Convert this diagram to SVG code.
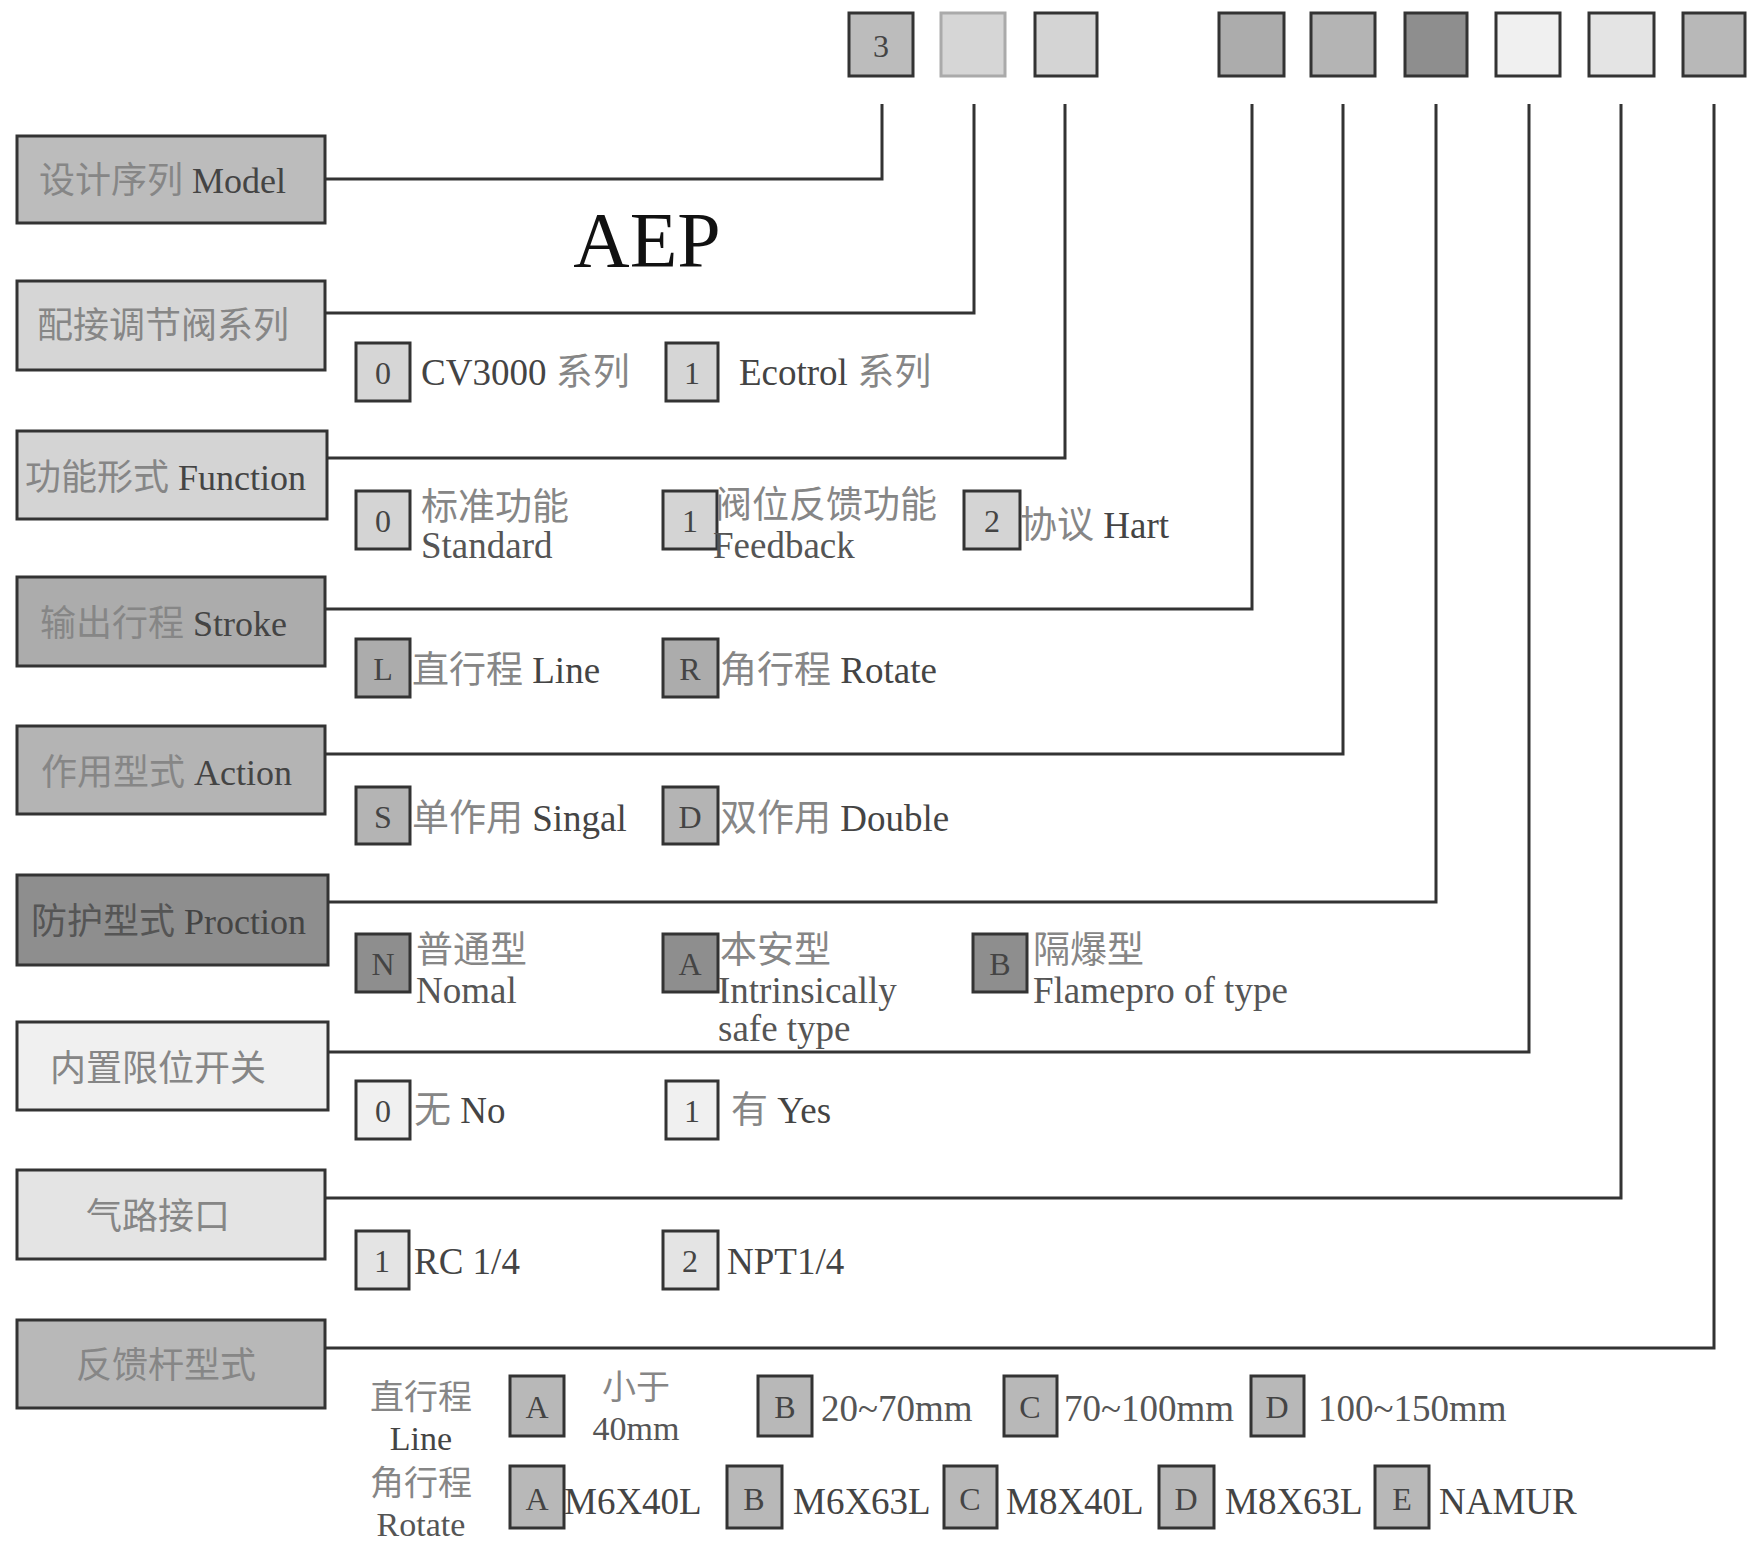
<svg xmlns="http://www.w3.org/2000/svg" width="1751" height="1542" viewBox="0 0 1751 1542">
<style>
.bx{stroke:#333;stroke-width:3}
.ob{stroke:#333;stroke-width:3}
.lbl{font-family:"Liberation Serif","Noto Sans CJK SC",serif;font-size:36px;fill:#444}
.opt{font-family:"Liberation Serif","Noto Sans CJK SC",serif;font-size:37px;fill:#444}
.key{font-family:"Liberation Serif","Noto Sans CJK SC",serif;font-size:32px;fill:#444;text-anchor:middle}
.cn{fill:#868686}
.conn{fill:none;stroke:#333;stroke-width:3}
.g1{fill:#bcbcbc}.g2{fill:#d6d6d6}.g3{fill:#d4d4d4}.g4{fill:#acacac}.g5{fill:#b4b4b4}.g6{fill:#8e8e8e}.g7{fill:#f0f0f0}.g8{fill:#e4e4e4}.g9{fill:#b8b8b8}
</style>
<rect width="1751" height="1542" fill="#ffffff"/>

<g id="code">
<rect class="bx g1" x="849" y="13" width="64" height="63"/>
<text class="key" x="881" y="57">3</text>
<rect class="bx g2" x="941" y="13" width="64" height="63" style="stroke:#aaa"/>
<rect class="bx g3" x="1035" y="13" width="62" height="63"/>
<rect class="bx g4" x="1219" y="13" width="65" height="63"/>
<rect class="bx g5" x="1311" y="13" width="64" height="63"/>
<rect class="bx g6" x="1405" y="13" width="62" height="63"/>
<rect class="bx g7" x="1496" y="13" width="64" height="63"/>
<rect class="bx g8" x="1589" y="13" width="65" height="63"/>
<rect class="bx g9" x="1683" y="13" width="62" height="63"/>
</g>

<text x="647" y="266" text-anchor="middle" style="font-family:'Liberation Serif',serif;font-size:78px;fill:#111">AEP</text>

<g id="connectors">
<path class="conn" d="M325 179 H882 V104"/>
<path class="conn" d="M325 313 H974 V104"/>
<path class="conn" d="M327 458 H1065 V104"/>
<path class="conn" d="M325 609 H1252 V104"/>
<path class="conn" d="M325 754 H1343 V104"/>
<path class="conn" d="M328 902 H1436 V104"/>
<path class="conn" d="M328 1052 H1529 V104"/>
<path class="conn" d="M325 1198 H1621 V104"/>
<path class="conn" d="M325 1348 H1714 V104"/>
</g>

<g id="model">
<rect class="bx g1" x="17" y="136" width="308" height="87"/>
<text class="lbl" x="39" y="193"><tspan class="cn">设计序列</tspan> Model</text>
</g>

<g id="series">
<rect class="bx g2" x="17" y="281" width="308" height="89"/>
<text class="lbl cn" x="37" y="338">配接调节阀系列</text>
<rect class="ob g2" x="356" y="343" width="54" height="58"/>
<text class="key" x="383" y="384">0</text>
<text class="opt" x="421" y="385">CV3000 <tspan class="cn">系列</tspan></text>
<rect class="ob g2" x="666" y="343" width="52" height="58"/>
<text class="key" x="692" y="384">1</text>
<text class="opt" x="739" y="385">Ecotrol <tspan class="cn">系列</tspan></text>
</g>

<g id="function">
<rect class="bx g3" x="17" y="431" width="310" height="88"/>
<text class="lbl" x="25" y="490"><tspan class="cn">功能形式</tspan> Function</text>
<rect class="ob g3" x="356" y="491" width="54" height="58"/>
<text class="key" x="383" y="532">0</text>
<text class="opt cn" x="421" y="520">标准功能</text>
<text class="opt" x="421" y="558" style="fill:#555">Standard</text>
<rect class="ob g3" x="663" y="491" width="54" height="58"/>
<text class="key" x="690" y="532">1</text>
<text class="opt cn" x="715" y="518">阀位反馈功能</text>
<text class="opt" x="713" y="558" style="fill:#555">Feedback</text>
<rect class="ob g3" x="964" y="491" width="56" height="58"/>
<text class="key" x="992" y="532">2</text>
<text class="opt" x="1020" y="538"><tspan class="cn">协议</tspan> Hart</text>
</g>

<g id="stroke">
<rect class="bx g4" x="17" y="577" width="308" height="89"/>
<text class="lbl" x="40" y="636"><tspan class="cn">输出行程</tspan> Stroke</text>
<rect class="ob g4" x="356" y="639" width="54" height="58"/>
<text class="key" x="383" y="680">L</text>
<text class="opt" x="412" y="683"><tspan class="cn">直行程</tspan> Line</text>
<rect class="ob g4" x="663" y="639" width="55" height="58"/>
<text class="key" x="690" y="680">R</text>
<text class="opt" x="720" y="683"><tspan class="cn">角行程</tspan> Rotate</text>
</g>

<g id="action">
<rect class="bx g5" x="17" y="726" width="308" height="88"/>
<text class="lbl" x="41" y="785"><tspan class="cn">作用型式</tspan> Action</text>
<rect class="ob g5" x="356" y="787" width="54" height="57"/>
<text class="key" x="383" y="828">S</text>
<text class="opt" x="412" y="831"><tspan class="cn">单作用</tspan> Singal</text>
<rect class="ob g5" x="663" y="787" width="55" height="57"/>
<text class="key" x="690" y="828">D</text>
<text class="opt" x="720" y="831"><tspan class="cn">双作用</tspan> Double</text>
</g>

<g id="protection">
<rect class="bx g6" x="17" y="875" width="311" height="90"/>
<text class="lbl" x="31" y="934"><tspan class="cn" style="fill:#555">防护型式</tspan> Proction</text>
<rect class="ob g6" x="356" y="934" width="54" height="58"/>
<text class="key" x="383" y="975">N</text>
<text class="opt cn" x="416" y="963">普通型</text>
<text class="opt" x="416" y="1003" style="fill:#555">Nomal</text>
<rect class="ob g6" x="663" y="934" width="55" height="58"/>
<text class="key" x="690" y="975">A</text>
<text class="opt cn" x="720" y="963">本安型</text>
<text class="opt" x="718" y="1003" style="fill:#555">Intrinsically</text>
<text class="opt" x="718" y="1041" style="fill:#555">safe type</text>
<rect class="ob g6" x="973" y="934" width="54" height="58"/>
<text class="key" x="1000" y="975">B</text>
<text class="opt cn" x="1033" y="963">隔爆型</text>
<text class="opt" x="1033" y="1003" style="fill:#555">Flamepro of type</text>
</g>

<g id="limit">
<rect class="bx g7" x="17" y="1022" width="311" height="88"/>
<text class="lbl cn" x="50" y="1081">内置限位开关</text>
<rect class="ob g7" x="356" y="1081" width="54" height="58"/>
<text class="key" x="383" y="1122">0</text>
<text class="opt" x="414" y="1123"><tspan class="cn">无</tspan> No</text>
<rect class="ob g7" x="666" y="1081" width="52" height="58"/>
<text class="key" x="692" y="1122">1</text>
<text class="opt" x="731" y="1123"><tspan class="cn">有</tspan> Yes</text>
</g>

<g id="air">
<rect class="bx g8" x="17" y="1170" width="308" height="89"/>
<text class="lbl cn" x="86" y="1229">气路接口</text>
<rect class="ob g8" x="356" y="1231" width="53" height="58"/>
<text class="key" x="382" y="1272">1</text>
<text class="opt" x="414" y="1274">RC 1/4</text>
<rect class="ob g8" x="663" y="1231" width="55" height="58"/>
<text class="key" x="690" y="1272">2</text>
<text class="opt" x="727" y="1274">NPT1/4</text>
</g>

<g id="feedback">
<rect class="bx g9" x="17" y="1320" width="308" height="88"/>
<text class="lbl cn" x="76" y="1378">反馈杆型式</text>
<text class="opt cn" x="421" y="1409" text-anchor="middle" style="font-size:34px">直行程</text>
<text class="opt" x="421" y="1450" text-anchor="middle" style="font-size:34px">Line</text>
<rect class="ob g9" x="510" y="1376" width="54" height="60"/>
<text class="key" x="537" y="1418">A</text>
<text class="opt cn" x="636" y="1399" text-anchor="middle" style="font-size:34px">小于</text>
<text class="opt" x="636" y="1440" text-anchor="middle" style="fill:#555;font-size:34px">40mm</text>
<rect class="ob g9" x="758" y="1376" width="54" height="60"/>
<text class="key" x="785" y="1418">B</text>
<text class="opt" x="821" y="1421" style="fill:#555">20~70mm</text>
<rect class="ob g9" x="1004" y="1376" width="53" height="60"/>
<text class="key" x="1030" y="1418">C</text>
<text class="opt" x="1064" y="1421" style="fill:#555">70~100mm</text>
<rect class="ob g9" x="1251" y="1376" width="53" height="60"/>
<text class="key" x="1277" y="1418">D</text>
<text class="opt" x="1318" y="1421" style="fill:#555">100~150mm</text>

<text class="opt cn" x="421" y="1495" text-anchor="middle" style="font-size:34px">角行程</text>
<text class="opt" x="421" y="1536" text-anchor="middle" style="fill:#555;font-size:34px">Rotate</text>
<rect class="ob g9" x="510" y="1466" width="54" height="62"/>
<text class="key" x="537" y="1510">A</text>
<text class="opt" x="564" y="1514">M6X40L</text>
<rect class="ob g9" x="727" y="1466" width="55" height="62"/>
<text class="key" x="754" y="1510">B</text>
<text class="opt" x="793" y="1514">M6X63L</text>
<rect class="ob g9" x="944" y="1466" width="53" height="62"/>
<text class="key" x="970" y="1510">C</text>
<text class="opt" x="1006" y="1514">M8X40L</text>
<rect class="ob g9" x="1159" y="1466" width="55" height="62"/>
<text class="key" x="1186" y="1510">D</text>
<text class="opt" x="1225" y="1514">M8X63L</text>
<rect class="ob g9" x="1375" y="1466" width="54" height="62"/>
<text class="key" x="1402" y="1510">E</text>
<text class="opt" x="1439" y="1514">NAMUR</text>
</g>
</svg>
